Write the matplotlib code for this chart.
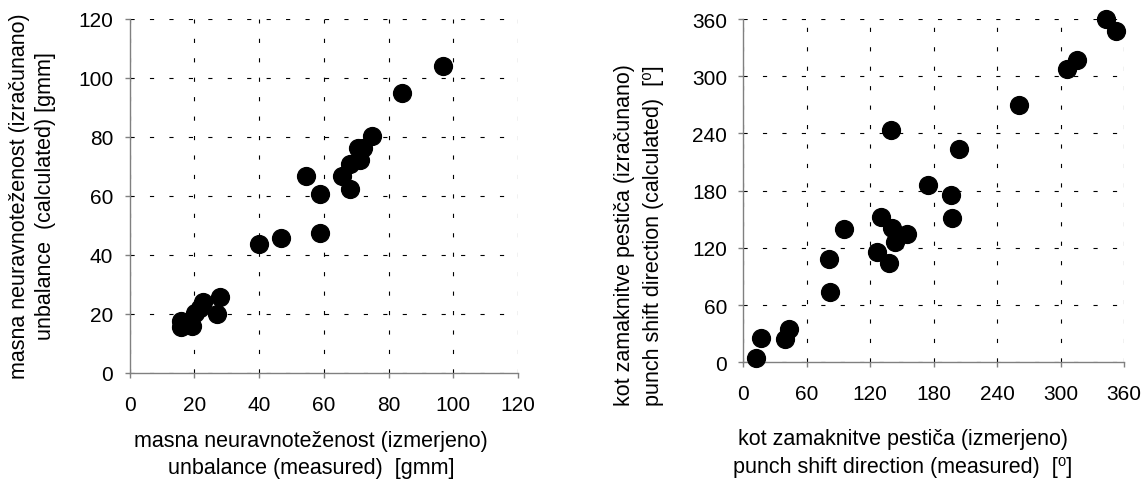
import matplotlib
matplotlib.use("Agg")
import matplotlib.pyplot as plt

plt.rcParams['font.family'] = ['Liberation Sans', 'DejaVu Sans']
plt.rcParams['lines.scale_dashes'] = False

# unbalance: measured vs calculated [gmm]
unb_measured = [15.9, 15.9, 19.2, 20.2, 21.8, 22.8, 26.9, 27.9, 40.1, 46.8, 54.4,
                58.9, 58.9, 65.7, 68.1, 68.1, 70.6, 72.0, 71.3, 74.9, 84.1, 96.8]
unb_calculated = [17.5, 15.5, 16.0, 20.4, 22.0, 24.0, 20.0, 25.6, 43.7, 45.7, 66.8,
                  60.8, 47.6, 66.9, 70.8, 62.4, 76.4, 76.3, 72.3, 80.3, 94.8, 104.2]

# punch shift direction: measured vs calculated [deg]
dir_measured = [343.4, 352.0, 315.5, 306.0, 260.3, 139.5, 204.2, 174.8, 196.3, 197.3,
                130.5, 140.2, 154.7, 143.3, 126.3, 137.8, 95.2, 80.7, 82.4, 43.3,
                39.5, 17.0, 11.8]
dir_calculated = [360.0, 347.0, 317.0, 307.6, 270.3, 243.1, 223.2, 185.6, 175.8, 151.4,
                  152.4, 141.3, 135.0, 126.3, 115.8, 104.3, 139.5, 108.5, 73.9, 34.9,
                  24.4, 25.1, 4.9]

unb_ticks = [0, 20, 40, 60, 80, 100, 120]
dir_ticks = [0, 60, 120, 180, 240, 300, 360]

TICK_FS = 15
LABEL_FS = 15.5
GRAY = "#808080"


def style_axes(ax, ticks, ypad):
    ax.set_xlim(ticks[0], ticks[-1])
    ax.set_ylim(ticks[0], ticks[-1])
    ax.set_xticks(ticks)
    ax.set_yticks(ticks)
    for side in ("top", "right"):
        ax.spines[side].set_visible(False)
    for side in ("left", "bottom"):
        ax.spines[side].set_color(GRAY)
        ax.spines[side].set_linewidth(1.0)
    ax.tick_params(direction="out", length=3.6, width=1.0, color=GRAY,
                   labelsize=TICK_FS, labelcolor="black")
    ax.tick_params(axis="x", pad=12.0)
    ax.tick_params(axis="y", pad=ypad)
    ax.grid(True, color="black", linewidth=0.8, linestyle=(0, (3, 11)))
    ax.set_axisbelow(True)


fig = plt.figure(figsize=(11.43, 4.81), dpi=100)

ax1 = fig.add_axes([0.1133, 0.2225, 0.3399, 0.736])
ax1.scatter(unb_measured, unb_calculated, s=165, color="black", zorder=3, clip_on=False)
style_axes(ax1, unb_ticks, 8.2)

ax2 = fig.add_axes([0.6503, 0.2447, 0.3331, 0.7137])
ax2.scatter(dir_measured, dir_calculated, s=165, color="black", zorder=3, clip_on=False)
style_axes(ax2, dir_ticks, 8.2)

fig.text(0.272, 0.055, "masna neuravnoteženost (izmerjeno)\nunbalance (measured)  [gmm]",
         ha="center", va="center", fontsize=LABEL_FS, linespacing=1.38)
fig.text(0.0284, 0.5925, "masna neuravnoteženost (izračunano)\nunbalance  (calculated) [gmm]",
         ha="center", va="center", rotation=90, fontsize=LABEL_FS, linespacing=1.32)
fig.text(0.790, 0.058, "kot zamaknitve pestiča (izmerjeno)\npunch shift direction (measured)  [⁰]",
         ha="center", va="center", fontsize=LABEL_FS, linespacing=1.45)
fig.text(0.559, 0.511, "kot zamaknitve pestiča (izračunano)\npunch shift direction (calculated)  [⁰]",
         ha="center", va="center", rotation=90, fontsize=LABEL_FS, linespacing=1.48)

fig.savefig("out.png", dpi=100)
